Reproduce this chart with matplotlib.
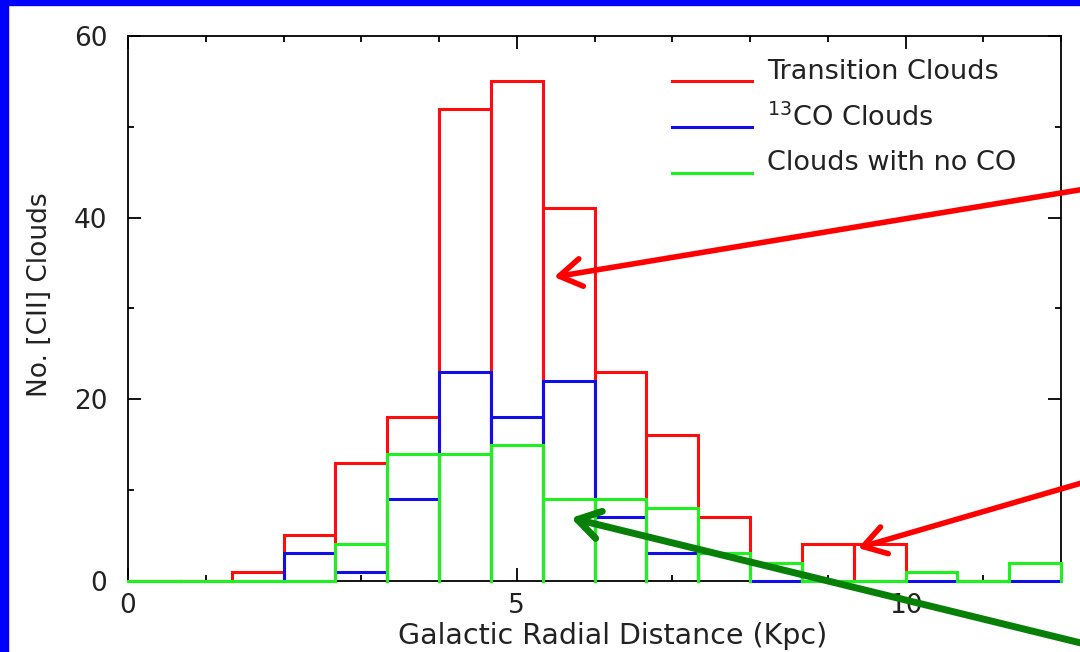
import numpy as np
import matplotlib
matplotlib.use('Agg')
import matplotlib.pyplot as plt
from matplotlib.patches import Rectangle, FancyArrowPatch
from matplotlib.lines import Line2D

plt.rcParams['font.family'] = ['DejaVu Sans']
plt.rcParams['mathtext.fontset'] = 'dejavusans'

# histogram bins: 18 bins of 2/3 kpc from 0 to 12
bin_edges = np.linspace(0, 12, 19)
transition = [0, 0, 1, 5, 13, 18, 52, 55, 41, 23, 16, 7, 2, 4, 4, 1, 0, 2]
co13 = [0, 0, 0, 3, 1, 9, 23, 18, 22, 7, 3, 3, 0, 0, 0, 0, 0, 0]
no_co = [0, 0, 0, 0, 4, 14, 14, 15, 9, 9, 8, 3, 2, 0, 0, 1, 0, 2]

series = [(transition, '#ff0d0d', 'Transition Clouds'),
          (co13, '#1010e6', r'$^{\mathrm{13}}$CO Clouds'),
          (no_co, '#1ff01f', 'Clouds with no CO')]

W, H = 1080, 652
fig = plt.figure(figsize=(10.8, 6.52), dpi=100)
fig.patch.set_facecolor('white')
# blue slide border (top and left)
fig.patches.append(Rectangle((0, 1 - 5 / H), 1, 5 / H, transform=fig.transFigure,
                             color='#0000ff', zorder=0))
fig.patches.append(Rectangle((0, 0), 8 / W, 1, transform=fig.transFigure,
                             color='#0000ff', zorder=0))

ax = fig.add_axes([128 / W, 1 - 580.7 / H, 933 / W, 544.7 / H])

for counts, col, lab in series:
    for i, h in enumerate(counts):
        l, r = bin_edges[i], bin_edges[i + 1]
        ax.plot([l, l, r, r], [0, h, h, 0], color=col, lw=2.2,
                solid_joinstyle='miter', clip_on=False, zorder=3)

ax.set_xlim(0, 12)
ax.set_ylim(0, 60)
ax.set_xticks([0, 5, 10])
ax.set_xticks(np.arange(0, 13, 1), minor=True)
ax.set_yticks([0, 20, 40, 60])
ax.set_yticks([10, 30, 50], minor=True)
ax.tick_params(which='both', direction='in', top=True, right=True, width=1.3,
               labelsize=19, labelcolor='#222222')
ax.tick_params(which='major', length=9.5)
ax.tick_params(which='minor', length=4.5)
ax.tick_params(axis='x', pad=9)
ax.tick_params(axis='y', pad=15)
for s in ax.spines.values():
    s.set_linewidth(1.3)

ax.set_xlabel('Galactic Radial Distance (Kpc)', fontsize=20.5, color='#222222')
ax.xaxis.set_label_coords(0.519, -0.101)
ax.xaxis.label.set_va('center')
ax.set_ylabel('No. [CII] Clouds', fontsize=19, color='#222222')
ax.yaxis.set_label_coords(-0.094, 0.525)
ax.yaxis.label.set_va('center')

# legend drawn by hand
leg_y = [0.917, 0.833, 0.749]
for (counts, col, lab), yy in zip(series, leg_y):
    ax.add_line(Line2D([0.583, 0.669], [yy, yy], transform=ax.transAxes,
                       color=col, lw=2.2))
    ax.text(0.685, yy + 0.017, lab, transform=ax.transAxes, fontsize=19.5,
            va='center', ha='left', color='#222222')

# annotation arrows (figure pixels -> fraction)
def arrow(x0, y0, x1, y1, col, lw):
    a = FancyArrowPatch((x0 / W, 1 - y0 / H), (x1 / W, 1 - y1 / H),
                        transform=fig.transFigure, arrowstyle='->,head_length=16,head_width=10',
                        mutation_scale=1, color=col, lw=lw, zorder=10,
                        shrinkA=0, shrinkB=0, capstyle='round', joinstyle='round')
    fig.patches.append(a)

arrow(1085, 189, 554, 277, '#ff0000', 4)
arrow(1085, 482, 858, 548, '#ff0000', 4)
arrow(1085, 644, 571, 518, '#088008', 5)

fig.savefig('out.png', dpi=100)
